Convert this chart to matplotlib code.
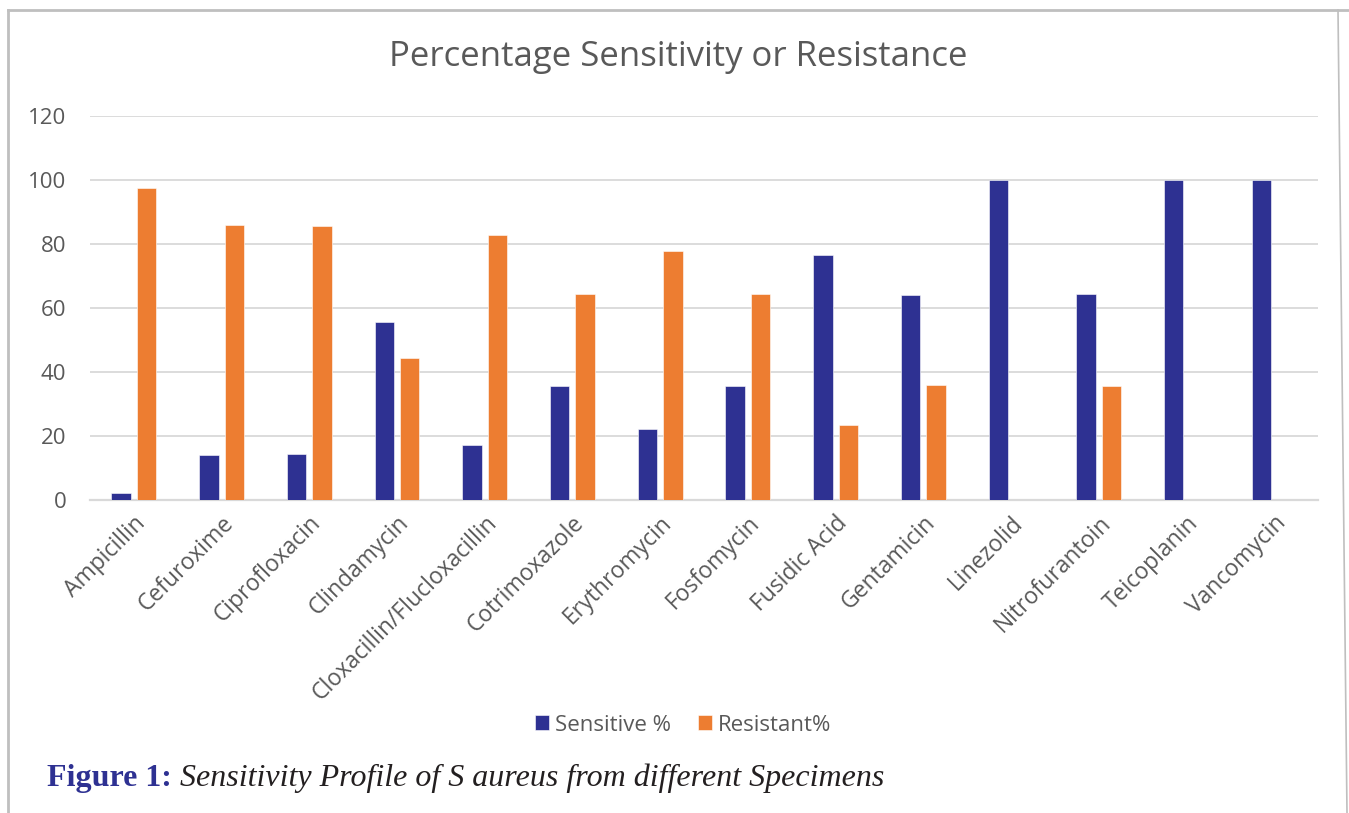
import numpy as np
import matplotlib
matplotlib.use("Agg")
from matplotlib import pyplot as plt
from matplotlib.lines import Line2D

drugs = ["Ampicillin", "Cefuroxime", "Ciprofloxacin", "Clindamycin",
         "Cloxacillin/Flucloxacillin", "Cotrimoxazole", "Erythromycin",
         "Fosfomycin", "Fusidic Acid", "Gentamicin", "Linezolid",
         "Nitrofurantoin", "Teicoplanin", "Vancomycin"]
sensitive = [2.3, 14.0, 14.5, 55.6, 17.3, 35.7, 22.2, 35.7, 76.5, 64.0, 100, 64.3, 100, 100]
resistant = [97.6, 85.9, 85.5, 44.4, 82.7, 64.3, 77.8, 64.3, 23.5, 36.0, 0, 35.7, 0, 0]
yticks = [0, 20, 40, 60, 80, 100, 120]

W, H = 1349, 813
blue = "#2E3192"
orange = "#ED7D31"
grey_txt = "#595959"

plt.rcParams['font.family'] = ['Open Sans', 'DejaVu Sans']
fig = plt.figure(figsize=(W / 100, H / 100), dpi=100)

# plot area in pixels
x0, x1 = 90, 1318
ytop, ybot = 116, 500
ax = fig.add_axes([x0 / W, 1 - ybot / H, (x1 - x0) / W, (ybot - ytop) / H])

x = np.arange(len(drugs))
bw = 0.22
off = 0.145
ax.bar(x - off, sensitive, bw, color=blue, edgecolor="white", linewidth=0.4, label="Sensitive %", zorder=3)
ax.bar(x + off, resistant, bw, color=orange, edgecolor="white", linewidth=0.4, label="Resistant%", zorder=3)

ax.set_xlim(-0.5, len(drugs) - 0.5)
ax.set_ylim(0, 120)
ax.set_yticks(yticks)
ax.yaxis.grid(True, color="#D9D9D9", linewidth=1.3, zorder=0)
ax.set_axisbelow(True)
for s in ["top", "right", "left"]:
    ax.spines[s].set_visible(False)
ax.spines["bottom"].set_color("#D9D9D9")
ax.spines["bottom"].set_linewidth(1.6)
ax.tick_params(axis="both", length=0, labelsize=16, labelcolor=grey_txt)
ax.tick_params(axis="x", pad=8, labelsize=16.5)
ax.tick_params(axis="y", pad=17)
ax.set_xticks(x)
ax.set_xticklabels(drugs, rotation=45, ha="right", rotation_mode="anchor")

fig.text(678 / W, 1 - 57 / H, "Percentage Sensitivity or Resistance",
         ha="center", va="center", fontsize=25, color=grey_txt)

fig.legend(loc="center", bbox_to_anchor=(683 / W, 1 - 725 / H), ncol=2, frameon=False,
           fontsize=16, labelcolor=grey_txt, handlelength=0.64, handleheight=0.64,
           handletextpad=0.25, columnspacing=1.2)

# caption
fig.text(47 / W, 1 - 778 / H, "Figure 1:", ha="left", va="center",
         family=["Liberation Serif", "DejaVu Serif"], fontweight="bold",
         fontsize=23, color=blue)
fig.text(180 / W, 1 - 778 / H, "Sensitivity Profile of S aureus from different Specimens",
         ha="left", va="center", family=["Liberation Serif", "DejaVu Serif"],
         fontstyle="italic", fontsize=23, color="#231F20")

# frame lines
bc = "#BFBFBF"
fig.add_artist(Line2D([8 / W, 1], [1 - 10 / H, 1 - 10 / H], color=bc, linewidth=2))
fig.add_artist(Line2D([8 / W, 8 / W], [0, 1 - 10 / H], color=bc, linewidth=2))
fig.add_artist(Line2D([1347 / W, 1338 / W], [0, 1 - 10 / H], color=bc, linewidth=1.2))

fig.savefig("out.png", dpi=100)
